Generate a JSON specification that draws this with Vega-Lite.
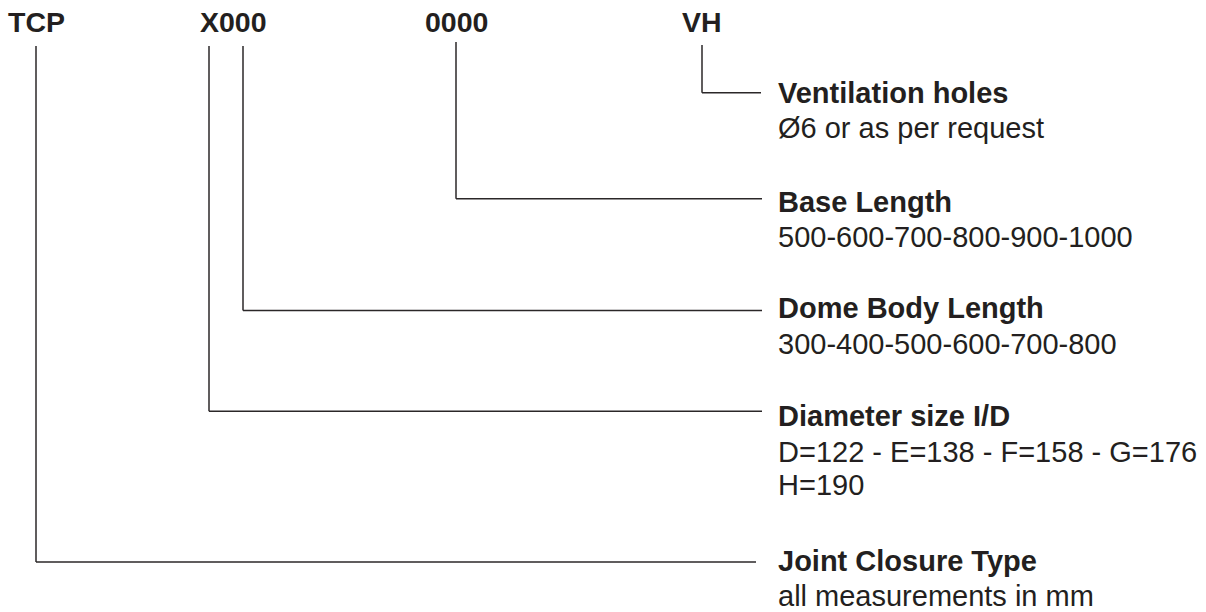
{
  "$schema": "https://vega.github.io/schema/vega-lite/v6.json",
  "width": 1206,
  "height": 612,
  "autosize": {"type": "fit", "contains": "padding"},
  "padding": 0,
  "background": "white",
  "config": {"view": {"stroke": null}},
  "datasets": {
    "lines": [
      {"code": "TCP", "x1": 36, "y1": 46, "x2": 36, "y2": 563},
      {"code": "TCP", "x1": 36, "y1": 563, "x2": 756, "y2": 563},
      {"code": "X", "x1": 209, "y1": 46, "x2": 209, "y2": 412},
      {"code": "X", "x1": 209, "y1": 412, "x2": 762, "y2": 412},
      {"code": "000", "x1": 243, "y1": 46, "x2": 243, "y2": 311},
      {"code": "000", "x1": 243, "y1": 311, "x2": 762, "y2": 311},
      {"code": "0000", "x1": 456, "y1": 42, "x2": 456, "y2": 199},
      {"code": "0000", "x1": 456, "y1": 199, "x2": 762, "y2": 199},
      {"code": "VH", "x1": 702, "y1": 45, "x2": 702, "y2": 93},
      {"code": "VH", "x1": 702, "y1": 93, "x2": 761, "y2": 93}
    ],
    "heads": [
      {"text": "TCP", "x": 8, "y": 32},
      {"text": "X000", "x": 200, "y": 32},
      {"text": "0000", "x": 425, "y": 32},
      {"text": "VH", "x": 682, "y": 32}
    ],
    "labels": [
      {"text": "Ventilation holes", "x": 778, "y": 103},
      {"text": "Base Length", "x": 778, "y": 212},
      {"text": "Dome Body Length", "x": 778, "y": 319},
      {"text": "Diameter size I/D", "x": 778, "y": 427},
      {"text": "Joint Closure Type", "x": 778, "y": 572}
    ],
    "details": [
      {"text": "Ø6 or as per request", "x": 778, "y": 138},
      {"text": "500-600-700-800-900-1000", "x": 778, "y": 247},
      {"text": "300-400-500-600-700-800", "x": 778, "y": 355},
      {"text": "D=122 - E=138 - F=158 - G=176", "x": 778, "y": 463},
      {"text": "H=190", "x": 778, "y": 496},
      {"text": "all measurements in mm", "x": 778, "y": 607}
    ]
  },
  "layer": [
    {
      "data": {"name": "lines"},
      "mark": {"type": "rule", "color": "#2b2728", "strokeWidth": 1.5},
      "encoding": {
        "x": {"field": "x1", "type": "quantitative", "scale": {"domain": [0, 1206], "nice": false, "zero": false}, "axis": null},
        "x2": {"field": "x2"},
        "y": {"field": "y1", "type": "quantitative", "scale": {"domain": [0, 612], "reverse": true, "nice": false, "zero": false}, "axis": null},
        "y2": {"field": "y2"}
      }
    },
    {
      "data": {"name": "heads"},
      "mark": {"type": "text", "align": "left", "baseline": "alphabetic", "font": "Liberation Sans", "fontSize": 28.5, "fontWeight": "bold", "color": "#231f20"},
      "encoding": {
        "x": {"field": "x", "type": "quantitative", "axis": null},
        "y": {"field": "y", "type": "quantitative", "axis": null},
        "text": {"field": "text"}
      }
    },
    {
      "data": {"name": "labels"},
      "mark": {"type": "text", "align": "left", "baseline": "alphabetic", "font": "Liberation Sans", "fontSize": 29, "fontWeight": "bold", "color": "#231f20"},
      "encoding": {
        "x": {"field": "x", "type": "quantitative", "axis": null},
        "y": {"field": "y", "type": "quantitative", "axis": null},
        "text": {"field": "text"}
      }
    },
    {
      "data": {"name": "details"},
      "mark": {"type": "text", "align": "left", "baseline": "alphabetic", "font": "Liberation Sans", "fontSize": 29, "color": "#231f20"},
      "encoding": {
        "x": {"field": "x", "type": "quantitative", "axis": null},
        "y": {"field": "y", "type": "quantitative", "axis": null},
        "text": {"field": "text"}
      }
    }
  ]
}
